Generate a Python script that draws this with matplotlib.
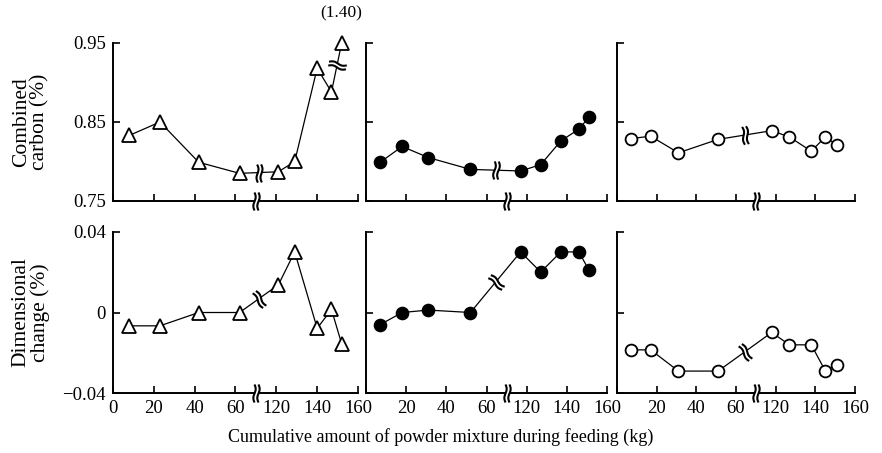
import matplotlib
matplotlib.use("Agg")
import matplotlib.pyplot as plt
import numpy as np
from matplotlib.path import Path
from matplotlib.markers import MarkerStyle
from matplotlib.transforms import Affine2D

plt.rcParams['font.family'] = ['Liberation Serif', 'DejaVu Serif']

# cumulative amount (kg) and readings, three mixtures
kg_a = [8, 23, 42, 62, 121, 129, 140, 147, 152]
cc_a = [0.833, 0.850, 0.799, 0.785, 0.787, 0.800, 0.918, 0.888, 1.40]
dc_a = [-0.0066, -0.0066, 0.0, 0.0, 0.0137, 0.030, -0.0078, 0.0015, -0.0155]

kg_b = [7, 18, 31, 52, 117, 127, 137, 146, 151]
cc_b = [0.799, 0.819, 0.805, 0.790, 0.788, 0.796, 0.826, 0.841, 0.856]
dc_b = [-0.006, 0.0, 0.0012, 0.0, 0.030, 0.020, 0.030, 0.030, 0.021]

kg_c = [7, 17, 31, 51, 118, 127, 138, 145, 151]
cc_c = [0.829, 0.832, 0.811, 0.828, 0.839, 0.831, 0.813, 0.831, 0.821]
dc_c = [-0.0185, -0.0185, -0.029, -0.029, -0.0099, -0.016, -0.016, -0.0288, -0.026]

xtick_kg = [0, 20, 40, 60, 120, 140, 160]


def to_t(kg):
    # broken x axis: 0-60 then 120-160
    kg = np.asarray(kg, dtype=float)
    return np.where(kg < 90, kg / 20.0, 4 + (kg - 120) / 20.0)


# break sign: white gap + two wavy strokes
yy = np.linspace(-1, 1, 25)
wave = 0.13 * np.sin(np.pi * yy)
verts = list(zip(-0.22 + wave, yy)) + list(zip(0.22 + wave, yy))
codes = ([Path.MOVETO] + [Path.LINETO] * 24) * 2
WAVES = Path(verts, codes)
GAP = Path([(-0.2, -1), (0.2, -1), (0.2, 1), (-0.2, 1), (-0.2, -1)])


def brk_mark(ax, x, y, ang, ms=13):
    rot = Affine2D().rotate_deg(ang)
    ax.plot([x], [y], ls='none', marker=MarkerStyle(GAP, transform=rot),
            ms=ms, mfc='white', mec='none', clip_on=False, zorder=5)
    ax.plot([x], [y], ls='none', marker=MarkerStyle(WAVES, fillstyle='none', transform=rot),
            ms=ms, mec='black', mew=1.5, clip_on=False, zorder=6)


def brk(ax, p0, p1, frac=0.5):
    d0 = ax.transData.transform(p0)
    d1 = ax.transData.transform(p1)
    ang = np.degrees(np.arctan2(d1[1] - d0[1], d1[0] - d0[0]))
    xm, ym = ax.transData.inverted().transform(d0 + frac * (d1 - d0))
    brk_mark(ax, xm, ym, ang)


fig = plt.figure(figsize=(8.82, 4.53), dpi=100)

lefts = [0.1281, 0.415, 0.6995]
widths = [0.2778, 0.2732, 0.2698]
top_box = (0.5563, 0.3488)
bot_box = (0.1318, 0.3567)

series = [(kg_a, cc_a, dc_a, '^', 'white', 10.5),
          (kg_b, cc_b, dc_b, 'o', 'black', 8.5),
          (kg_c, cc_c, dc_c, 'o', 'white', 8.5)]

for i, (kg, cc, dc, mk, fc, ms) in enumerate(series):
    t = to_t(kg)
    for row, (vals, box) in enumerate([(cc, top_box), (dc, bot_box)]):
        ax = fig.add_axes([lefts[i], box[0], widths[i], box[1]])
        for s in ['top', 'right']:
            ax.spines[s].set_visible(False)
        for s in ['left', 'bottom']:
            ax.spines[s].set_linewidth(1.4)
        ax.set_xlim(0, 6)
        ax.set_xticks(range(7))
        ax.tick_params(direction='in', length=5, width=1.2, labelsize=13.5, pad=5)
        if row == 0:
            ax.set_ylim(0.75, 0.95)
            ax.set_yticks([0.75, 0.85, 0.95])
            y = np.minimum(vals, 0.95)
            ax.set_xticklabels([])
            if i == 0:
                ax.set_yticklabels(['0.75', '0.85', '0.95'])
            else:
                ax.set_yticklabels([])
        else:
            ax.set_ylim(-0.04, 0.04)
            ax.set_yticks([-0.04, 0, 0.04])
            y = np.array(vals)
            labs = [str(k) for k in xtick_kg]
            if i > 0:
                labs[0] = ''
            ax.set_xticklabels(labs)
            if i == 0:
                ax.set_yticklabels(['\u22120.04', '0', '0.04'])
            else:
                ax.set_yticklabels([])
        ax.plot(t, y, color='black', lw=0.9, marker=mk, ms=ms, mfc=fc, mec='black',
                mew=1.3, clip_on=False, zorder=3)
        # axis break
        brk_mark(ax, 3.5, ax.get_ylim()[0], 0)
        # break on the line between 60 and 120
        brk(ax, (t[3], y[3]), (t[4], y[4]))
        if i == 0 and row == 0:
            brk(ax, (t[7], y[7]), (t[8], y[8]), frac=0.55)
            ax.annotate('(%.2f)' % vals[8], (t[8], y[8]), xytext=(0, 21),
                        textcoords='offset points', ha='center', va='center',
                        fontsize=12.5, annotation_clip=False)
        if i == 0:
            ax.set_ylabel('Combined\ncarbon (%)' if row == 0 else 'Dimensional\nchange (%)',
                          fontsize=15.5, linespacing=0.95, va='center', ha='center')
            ax.yaxis.set_label_coords(-0.335, 0.5)

fig.text(0.5, 0.035, 'Cumulative amount of powder mixture during feeding (kg)',
         ha='center', va='center', fontsize=13)

fig.savefig('out.png', dpi=100)
